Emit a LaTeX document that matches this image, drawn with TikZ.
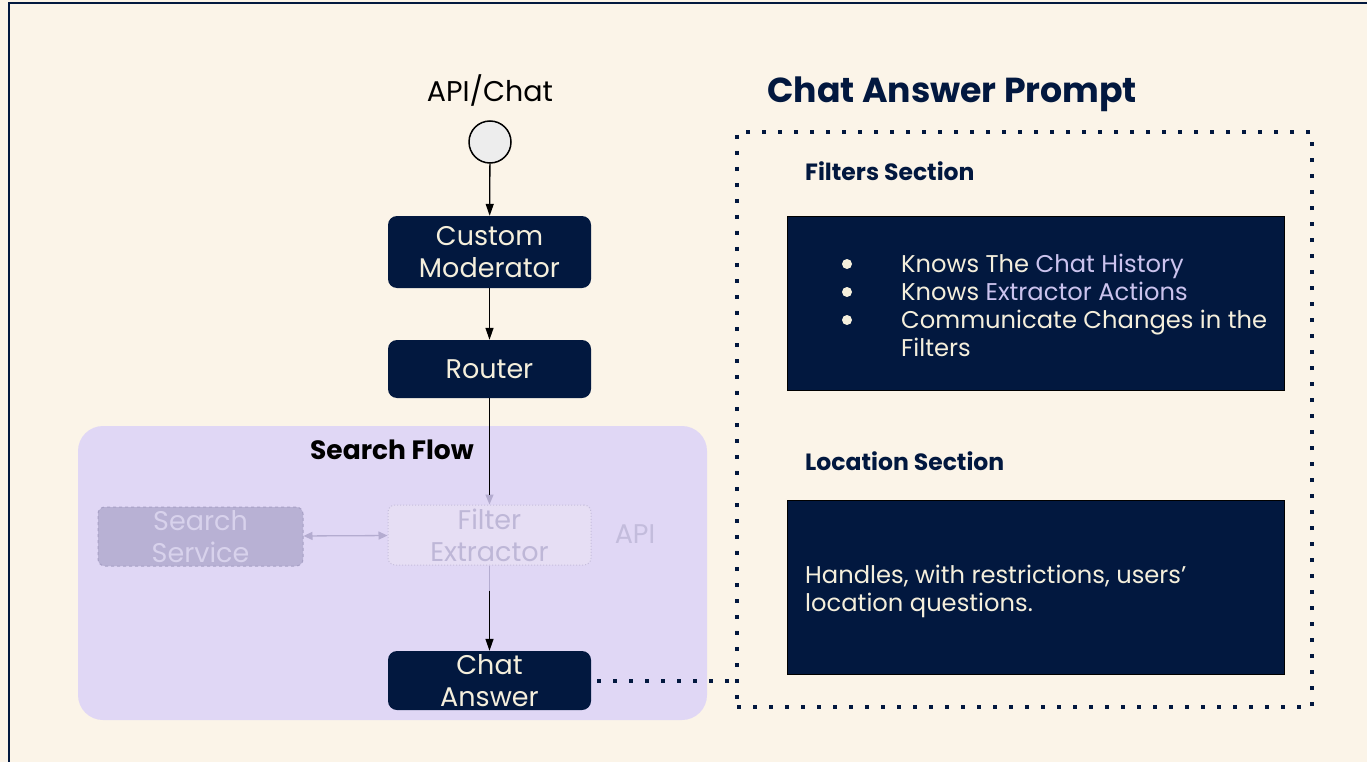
\documentclass[tikz,border=0pt]{standalone}
\usepackage{fontspec}
\setmainfont{Poppins}
\usetikzlibrary{arrows.meta}

\definecolor{paper}{HTML}{FBF4E8}
\definecolor{navy}{HTML}{02183F}
\definecolor{cream}{HTML}{F5EFDC}
\definecolor{lilac}{HTML}{CBC3EE}
\definecolor{flowbg}{HTML}{E0D7F5}
\definecolor{ghostfill}{HTML}{B8B1D4}
\definecolor{ghostedge}{HTML}{A8A1C6}
\definecolor{ghosttext}{HTML}{D8D2EC}
\definecolor{palefill}{HTML}{E6DEF4}
\definecolor{paleedge}{HTML}{C6BEDC}
\definecolor{paletext}{HTML}{BEB7D7}
\definecolor{fadedline}{HTML}{B4ACD0}

\tikzset{
  stepbox/.style={draw=none, fill=navy, text=cream, rounded corners=9pt,
    minimum width=203pt, inner sep=0pt, align=center,
    font=\fontsize{27}{32}\selectfont},
  ghostbox/.style={fill=ghostfill, draw=ghostedge, dashed, line width=1pt,
    rounded corners=7pt, text=ghosttext, minimum width=205pt,
    minimum height=59pt, inner sep=0pt, align=center,
    font=\fontsize{27}{32}\selectfont},
  palebox/.style={fill=palefill, draw=paleedge, dotted, line width=1pt,
    rounded corners=7pt, text=paletext, minimum width=203pt,
    minimum height=60pt, inner sep=0pt, align=center,
    font=\fontsize{27}{32}\selectfont},
  flowarrow/.style={draw=black, line width=1.3pt,
    -{Triangle[length=12pt,width=8pt]}},
  fadedarrow/.style={draw=fadedline, line width=1.3pt},
  panel/.style={fill=navy, draw=black, line width=1pt, minimum width=497pt,
    minimum height=174pt, inner sep=0pt},
  heading/.style={anchor=base west, inner sep=0pt, text=navy,
    font=\fontsize{23.5}{28}\selectfont\bfseries},
  bodytext/.style={anchor=base west, inner sep=0pt, text=cream,
    font=\fontsize{24.2}{28}\selectfont},
  bulletdot/.style={circle, fill=cream, draw=none, minimum size=10pt,
    inner sep=0pt},
  squaredots/.style={draw=navy, line width=4pt, dash pattern=on 4pt off 12pt}
}

\begin{document}
\begin{tikzpicture}[x=1pt,y=-1pt]
  % page and outer frame
  \fill[paper] (0,0) rectangle (1367,762);
  \useasboundingbox (0,0) rectangle (1367,762);
  \draw[navy, line width=2pt] (9,762) -- (9,3) -- (1367,3);

  % search flow area
  \node[fill=flowbg, rounded corners=25pt, minimum width=629pt,
        minimum height=294pt, inner sep=0pt] (flow) at (392.5,573) {};
  \node[anchor=base, inner sep=0pt, font=\fontsize{26.5}{30}\selectfont\bfseries]
        (flowtitle) at (392,459) {Search Flow};

  % entry point
  \node[anchor=base, inner sep=0pt, font=\fontsize{28.5}{32}\selectfont]
        (apilabel) at (490,102) {API/Chat};
  \node[circle, fill=black!7, draw=black, line width=1.5pt, minimum size=42pt,
        inner sep=0pt] (start) at (490,142) {};

  % pipeline steps
  \node[stepbox, minimum height=72pt] (moderator) at (489.5,252) {Custom\\Moderator};
  \node[stepbox, minimum height=58pt] (router) at (489.5,369) {Router};
  \node[palebox] (filter) at (489.5,535) {Filter\\Extractor};
  \node[ghostbox] (search) at (200.5,536.5) {Search\\Service};
  \node[anchor=base, inner sep=0pt, text=paletext!85!flowbg,
        font=\fontsize{27}{32}\selectfont] (apinote) at (635,543) {API};
  \node[stepbox, minimum height=59pt] (answer) at (489.5,680.5) {Chat\\Answer};

  % connectors
  \draw[flowarrow] (start) -- (moderator);
  \draw[flowarrow] (moderator) -- (router);
  \draw[fadedarrow, -{Triangle[length=10pt,width=8pt]}] (router) -- (filter);
  \draw[black, line width=1.3pt] (router.south) -- ++(0,97);
  \draw[fadedarrow, {Triangle[length=9pt,width=8pt]}-{Triangle[length=9pt,width=8pt]}]
        (search) -- (filter);
  \draw[fadedarrow] (filter.south) -- ++(0,25) coordinate (resume);
  \draw[flowarrow] (resume) -- (answer);

  % prompt panel
  \node[anchor=base west, inner sep=0pt, text=navy,
        font=\fontsize{34.7}{40}\selectfont\bfseries] (title) at (767,103) {Chat Answer Prompt};
  \node[squaredots, minimum width=575pt, minimum height=575pt, inner sep=0pt]
        (prompt) at (1024.5,419.5) {};
  \draw[squaredots] ([xshift=6pt]answer.east) -- (answer.east -| prompt.west);

  \node[heading] (filterhead) at (805,181) {Filters Section};
  \node[panel] (filters) at (1035.5,303) {};
  \node[bulletdot] (b1) at (847,264) {};
  \node[bulletdot] (b2) at (847,292) {};
  \node[bulletdot] (b3) at (847,320) {};
  \node[bodytext] (l1) at (901,272) {Knows The \textcolor{lilac}{Chat History}};
  \node[bodytext] (l2) at (901,300) {Knows \textcolor{lilac}{Extractor Actions}};
  \node[bodytext] (l3) at (901,328) {Communicate Changes in the};
  \node[bodytext] (l4) at (901,356) {Filters};

  \node[heading] (lochead) at (805,470) {Location Section};
  \node[panel] (location) at (1035.5,587) {};
  \node[bodytext] (m1) at (805,583) {Handles, with restrictions, users’};
  \node[bodytext] (m2) at (805,611) {location questions.};
\end{tikzpicture}
\end{document}
